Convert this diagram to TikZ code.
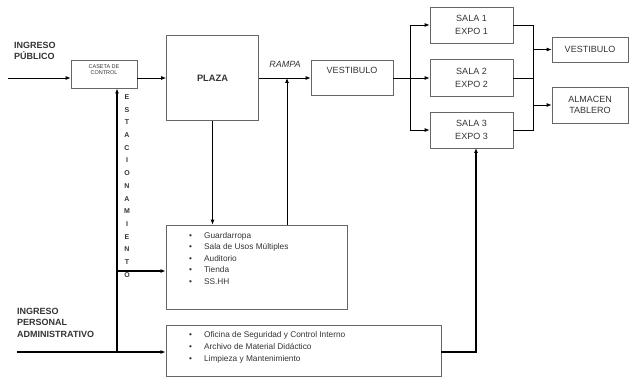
\documentclass[tikz,border=0pt]{standalone}
\usepackage{fontspec}
\setmainfont{Liberation Sans}
\usetikzlibrary{arrows.meta}
\definecolor{txt}{HTML}{333333}
\definecolor{bord}{HTML}{666666}
\begin{document}
\begin{tikzpicture}[x=1pt,y=-1pt,
  box/.style={draw=bord,line width=0.8pt,inner sep=0pt,text=txt,align=center,font=\fontsize{9}{13}\selectfont},
  conn/.style={line width=0.8pt,-{Latex[length=5pt,width=4pt]}},
  plain/.style={line width=0.8pt},
  thickconn/.style={line width=1.8pt,-{Latex[length=5pt,width=4pt]}},
  lbl/.style={text=txt,inner sep=0pt,font=\fontsize{9}{11.5}\selectfont\bfseries,align=left},
  lst/.style={text=txt,inner sep=0pt,anchor=base west}
]
\useasboundingbox (0,0) rectangle (629,377);
% boxes
\node[box,minimum width=66pt,minimum height=28pt] (caseta) at (104,74) {};
\node[text=txt,inner sep=0pt,align=center,font=\fontsize{5.5}{6}\selectfont] (casetat) at (104,70) {CASETA DE\\CONTROL};
\node[box,minimum width=92pt,minimum height=85pt,font=\fontsize{9.3}{11}\selectfont\bfseries] (plaza) at (212.5,78) {PLAZA};
\node[box,minimum width=82pt,minimum height=35pt] (vest1) at (352,78) {};
\node[text=txt,inner sep=0pt,font=\fontsize{9}{11}\selectfont] (vest1t) at (352,70) {VESTIBULO};
\node[box,minimum width=83pt,minimum height=36pt] (sala1) at (471.5,25) {SALA 1\\EXPO 1};
\node[box,minimum width=83pt,minimum height=37pt] (sala2) at (471.5,78) {SALA 2\\EXPO 2};
\node[box,minimum width=83pt,minimum height=36pt] (sala3) at (471.5,130) {SALA 3\\EXPO 3};
\node[box,minimum width=76pt,minimum height=25pt] (vest2) at (590,49.5) {VESTIBULO};
\node[box,minimum width=76pt,minimum height=36pt,font=\fontsize{9}{11.5}\selectfont] (alm) at (590,105) {ALMACEN\\TABLERO};
\node[box,minimum width=181pt,minimum height=84pt] (serv) at (256.5,267) {};
\node[box,minimum width=275pt,minimum height=51pt] (admin) at (303.5,351) {};
% lists
\node[lst,font=\fontsize{8.3}{11.5}\selectfont] (servl) at (189,238)
  {\begin{tabular}[t]{@{}l@{\hspace{12pt}}l@{}}
  \textbullet & Guardarropa\\ \textbullet & Sala de Usos Múltiples\\ \textbullet & Auditorio\\
  \textbullet & Tienda\\ \textbullet & SS.HH\end{tabular}};
\node[lst,font=\fontsize{8.3}{12}\selectfont] (adminl) at (189,337)
  {\begin{tabular}[t]{@{}l@{\hspace{12pt}}l@{}}
  \textbullet & Oficina de Seguridad y Control Interno\\ \textbullet & Archivo de Material Didáctico\\
  \textbullet & Limpieza y Mantenimiento\end{tabular}};
% labels
\node[lbl,anchor=north west] (inpub) at (14,42) {INGRESO\\PÚBLICO};
\node[lbl,anchor=north west] (inadm) at (17,308) {INGRESO\\PERSONAL\\ADMINISTRATIVO};
\node[text=txt,inner sep=0pt,font=\fontsize{9}{11}\selectfont\itshape] (rampa) at (285,64) {RAMPA};
\node[text=txt,inner sep=0pt,align=center,font=\fontsize{7}{12.7}\selectfont\bfseries] (estac) at (127,186)
  {E\\S\\T\\A\\C\\I\\O\\N\\A\\M\\I\\E\\N\\T\\O};
% coordinates
\coordinate (in1) at (8,78);
\coordinate (ramp) at (287,78);
\coordinate (br1) at (410,78);
\coordinate (c3) at (533,130);
\coordinate (in2) at (17,352);
\coordinate (v) at (117,352);
\coordinate (j2) at (117,271);
\coordinate (s3) at (476,148);
% connectors
\draw[conn] (in1) -- (in1 -| caseta.west);
\draw[conn] (caseta.east |- in1) -- (plaza.west |- in1);
\draw[conn] (plaza.east) -- (vest1.west);
\draw[conn] (serv.north -| ramp) -- (ramp);
\draw[conn] (plaza.south) -- (serv.north -| plaza.south);
\draw[plain] (vest1.east) -- (br1);
\draw[conn] (br1) |- (sala1.west);
\draw[conn] (br1) -- (sala2.west);
\draw[conn] (br1) |- (sala3.west);
\draw[plain] (sala1.east) -| (c3) -- (sala3.east);
\draw[plain] (sala2.east) -- (sala2.east -| c3);
\draw[conn] (vest2.west -| c3) -- (vest2.west);
\draw[conn] (alm.west -| c3) -- (alm.west);
\draw[thickconn] (in2) -- (admin.west |- in2);
\draw[thickconn] (v) -- (v |- caseta.south);
\draw[thickconn] (j2) -- (serv.west |- j2);
\draw[thickconn] (admin.east |- in2) -| (s3);
\end{tikzpicture}
\end{document}
